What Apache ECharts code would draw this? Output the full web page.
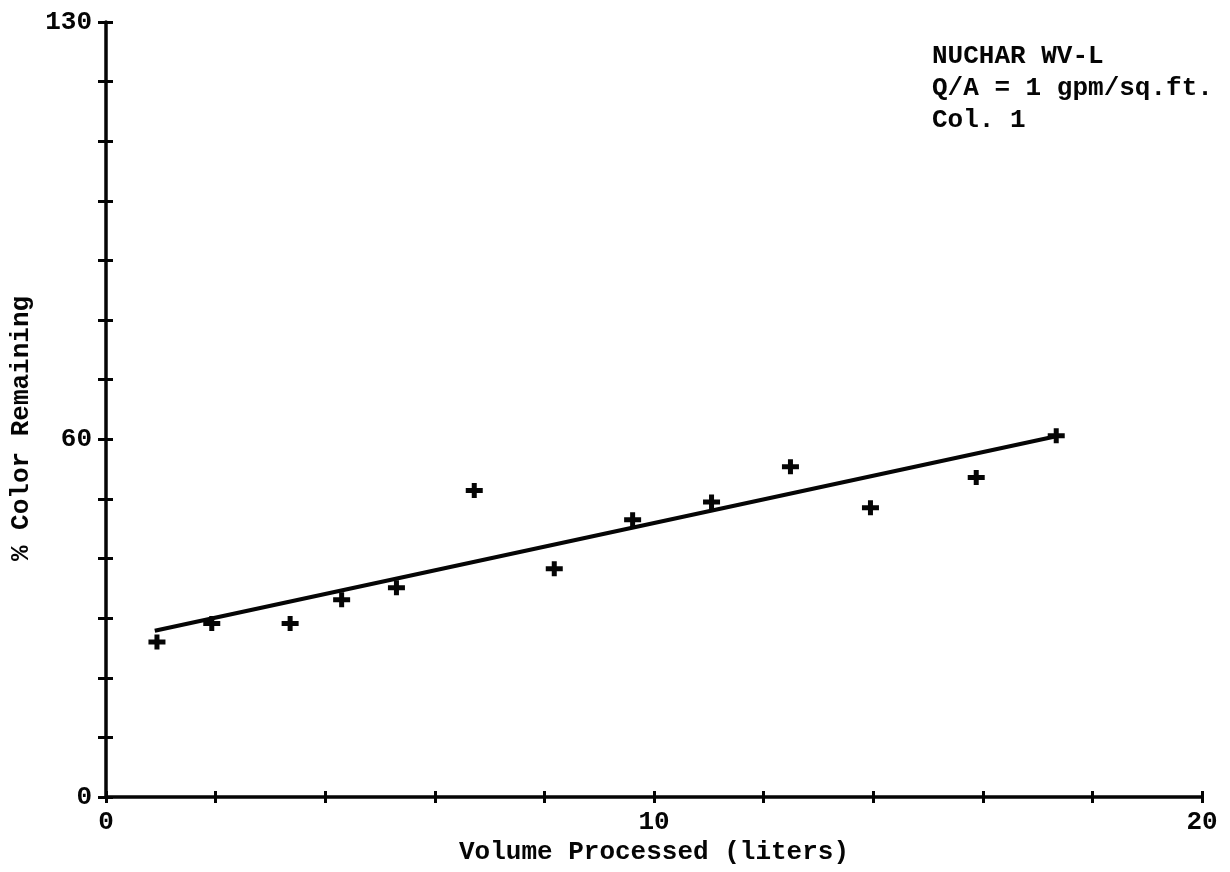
<!DOCTYPE html>
<html>
<head>
<meta charset="utf-8">
<title>NUCHAR WV-L breakthrough</title>
<script src="https://cdn.jsdelivr.net/npm/echarts@6/dist/echarts.min.js"></script>
<style>
  html, body { margin: 0; padding: 0; background: #ffffff; }
  #chart { width: 1230px; height: 872px; }
</style>
</head>
<body>
<div id="chart"></div>
<script>
// Measured effluent colour versus throughput, column 1
const volumeLiters = [0.93, 1.93, 3.36, 4.30, 5.30, 6.72, 8.18, 9.61, 11.05, 12.49, 13.95, 15.88, 17.34];
const colorRemaining = [26.0, 29.1, 29.1, 33.1, 35.1, 51.4, 38.3, 46.5, 49.5, 55.4, 48.5, 53.6, 60.6];

// Straight-line fit drawn through the points (end points)
const fitVolume = [0.89, 17.34];
const fitColor = [27.9, 60.5];

// Axis ranges and labelled ticks
const xRange = [0, 20];
const xLabelled = [0, 10, 20];
const yRange = [0, 130];
const yLabelled = [0, 60, 130];

const noteLines = ['NUCHAR WV-L', 'Q/A = 1 gpm/sq.ft.', 'Col. 1'];

const FONT = '"Liberation Mono", "DejaVu Sans Mono", monospace';
const INK = '#050505';
// thick typewriter-style plus sign
const plusPath = 'path://M6,0H11V5H17V10H11V15H6V10H0V5H6Z';

const points = volumeLiters.map((v, i) => [v, colorRemaining[i]]);
const fitLine = fitVolume.map((v, i) => [v, fitColor[i]]);

const chart = echarts.init(document.getElementById('chart'), null, { renderer: 'canvas' });

const textStyleBase = { color: INK, fontFamily: FONT, fontSize: 26, fontWeight: 'bold' };

const option = {
  backgroundColor: '#ffffff',
  animation: false,
  grid: { left: 106, right: 28, top: 22, bottom: 75, containLabel: false },
  xAxis: [
    {
      type: 'value', min: xRange[0], max: xRange[1], interval: 2,
      position: 'bottom',
      name: 'Volume Processed (liters)', nameLocation: 'middle', nameGap: 31,
      nameTextStyle: textStyleBase,
      axisLine: { show: true, lineStyle: { color: INK, width: 3.5 } },
      axisTick: { show: true, inside: false, length: 6, lineStyle: { color: INK, width: 3 } },
      axisLabel: {
        show: true, margin: 12, ...textStyleBase,
        formatter: v => (xLabelled.includes(v) ? String(v) : '')
      },
      splitLine: { show: false }
    },
    {
      type: 'value', min: xRange[0], max: xRange[1], interval: 2,
      position: 'bottom', gridIndex: 0,
      axisLine: { show: false },
      axisTick: { show: true, inside: true, length: 6, lineStyle: { color: INK, width: 3 } },
      axisLabel: { show: false },
      splitLine: { show: false }
    }
  ],
  yAxis: [
    {
      type: 'value', min: yRange[0], max: yRange[1], interval: 10,
      position: 'left',
      name: '% Color Remaining', nameLocation: 'middle', nameGap: 66,
      nameTextStyle: { ...textStyleBase, padding: [0, 38, 0, 0] },
      axisLine: { show: true, lineStyle: { color: INK, width: 3.5 } },
      axisTick: { show: true, inside: false, length: 8, lineStyle: { color: INK, width: 3 } },
      axisLabel: {
        show: true, margin: 14, ...textStyleBase,
        formatter: v => (yLabelled.includes(v) ? String(v) : '')
      },
      splitLine: { show: false }
    },
    {
      type: 'value', min: yRange[0], max: yRange[1], interval: 10,
      position: 'left', gridIndex: 0,
      axisLine: { show: false },
      axisTick: { show: true, inside: true, length: 7, lineStyle: { color: INK, width: 3 } },
      axisLabel: { show: false },
      splitLine: { show: false }
    }
  ],
  series: [
    {
      name: 'fit', type: 'line', data: fitLine,
      xAxisIndex: 0, yAxisIndex: 0,
      showSymbol: false, symbol: 'none',
      lineStyle: { color: INK, width: 4 },
      silent: true, z: 2
    },
    {
      name: 'measured', type: 'scatter', data: points,
      xAxisIndex: 0, yAxisIndex: 0,
      symbol: plusPath, symbolSize: [17, 15],
      itemStyle: { color: INK, opacity: 1 },
      z: 3
    }
  ],
  graphic: [
    {
      type: 'text', left: 932, top: 40,
      style: {
        text: noteLines.join('\n'),
        fill: INK, font: 'bold 26px ' + FONT, lineHeight: 32
      }
    }
  ]
};

chart.setOption(option);
</script>
</body>
</html>
